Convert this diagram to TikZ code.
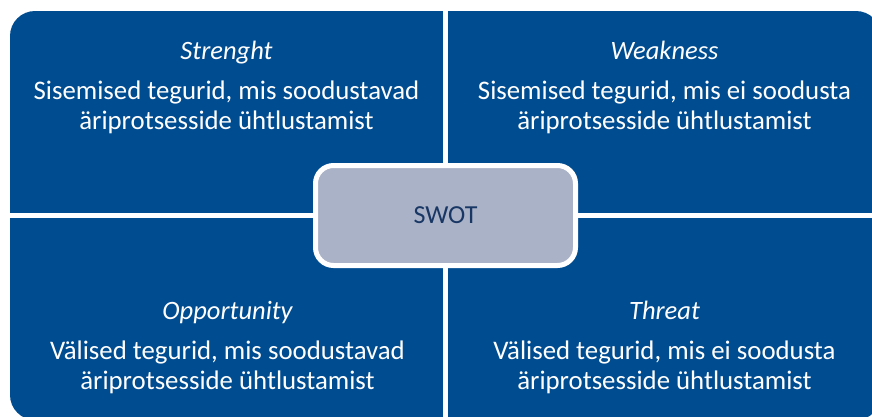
\documentclass[tikz,border=0pt]{standalone}
\usepackage{fontspec}
\setmainfont{Carlito}
\definecolor{quadblue}{RGB}{0,76,145}
\definecolor{centerfill}{RGB}{170,178,200}
\definecolor{swottext}{RGB}{25,55,100}
\begin{document}
\begin{tikzpicture}[x=1pt,y=1pt,
  title/.style={text=white,font=\fontsize{26.5}{30}\selectfont\itshape,anchor=base},
  body/.style={text=white,font=\fontsize{26.8}{30}\selectfont,align=center,anchor=center},
  gap/.style={fill=white},
  center/.style={draw=white,line width=5pt,fill=centerfill,rounded corners=18pt,
    minimum width=260pt,minimum height=100pt,text=swottext,font=\fontsize{26}{30}\selectfont}]
\useasboundingbox (0,0) rectangle (872,-416);
\clip (0,0) rectangle (872,-416);
% quadrants as one rounded block split by white gaps
\fill[quadblue,rounded corners=25pt] (10,-11) rectangle (881,-420);
\fill[gap] (443,5) rectangle (448,-425);
\fill[gap] (5,-213) rectangle (885,-218);
% texts
\node[title] (st) at (226.5,-59) {Strenght};
\node[body] (sb) at (226.5,-107) {Sisemised tegurid, mis soodustavad\\äriprotsesside ühtlustamist};
\node[title] (wt) at (664.5,-59) {Weakness};
\node[body] (wb) at (664.5,-107) {Sisemised tegurid, mis ei soodusta\\äriprotsesside ühtlustamist};
\node[title] (ot) at (227.5,-319) {Opportunity};
\node[body] (ob) at (227.5,-367) {Välised tegurid, mis soodustavad\\äriprotsesside ühtlustamist};
\node[title] (tt) at (664.5,-319) {Threat};
\node[body] (tb) at (664.5,-367) {Välised tegurid, mis ei soodusta\\äriprotsesside ühtlustamist};
% centre
\node[center] (swot) at (445.5,-215.5) {SWOT};
\end{tikzpicture}
\end{document}
